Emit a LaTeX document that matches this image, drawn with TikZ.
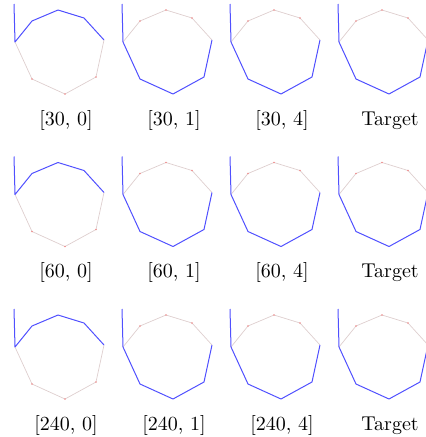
\documentclass[tikz,border=0pt]{standalone}
\usetikzlibrary{calc}
\usepackage{graphicx}
\definecolor{actblue}{RGB}{80,80,255}
\definecolor{faint}{RGB}{222,206,206}
\definecolor{dotc}{RGB}{240,140,140}
\begin{document}
\begin{tikzpicture}[x=1pt,y=-1pt,
  act/.style={draw=actblue,line width=1pt,line join=round},
  pas/.style={draw=faint,line width=0.7pt,line join=round},
  vdot/.style={fill=dotc,draw=none},
  lab/.style={anchor=base,inner sep=0pt}]
\useasboundingbox (0,0) rectangle (426,437);
% panel macro: #1 x offset, #2 y offset, #3 mode (0 upper, 1 lower)
\newcommand{\chainpanel}[4]{%
  \begin{scope}[shift={(#1,#2)}]
    \coordinate (P) at (14,4);
    \coordinate (A) at (15,42);
    \coordinate (B) at (32,21);
    \coordinate (C) at (58,10);
    \coordinate (D) at (84,18);
    \coordinate (E) at (104,40);
    \coordinate (F) at (96,77);
    \coordinate (G) at (65,94);
    \coordinate (H) at (32,79);
    \ifnum#3=0
      \draw[pas] (E) -- (F) -- (G) -- (H) -- (A);
      \foreach \v in {F,G,H} \fill[vdot] (\v) circle (0.9);
      \draw[act] (P) -- (A) -- (B) -- (C) -- (D) -- (E);
    \else
      \draw[pas] (A) -- (B) -- (C) -- (D) -- (E);
      \foreach \v in {B,C,D} \fill[vdot] (\v) circle (0.9);
      \draw[act] (P) -- (A) -- (H) -- (G) -- (F) -- (E);
    \fi
    \node[lab] (L) at (66,125) {\scalebox{2.0}{#4}};
  \end{scope}}
\chainpanel{0}{0}{0}{[30, 0]}
\chainpanel{108}{0}{1}{[30, 1]}
\chainpanel{216}{0}{1}{[30, 4]}
\chainpanel{324}{0}{1}{Target}
\chainpanel{0}{152.5}{0}{[60, 0]}
\chainpanel{108}{152.5}{1}{[60, 1]}
\chainpanel{216}{152.5}{1}{[60, 4]}
\chainpanel{324}{152.5}{1}{Target}
\chainpanel{0}{305}{0}{[240, 0]}
\chainpanel{108}{305}{1}{[240, 1]}
\chainpanel{216}{305}{1}{[240, 4]}
\chainpanel{324}{305}{1}{Target}
\end{tikzpicture}
\end{document}
